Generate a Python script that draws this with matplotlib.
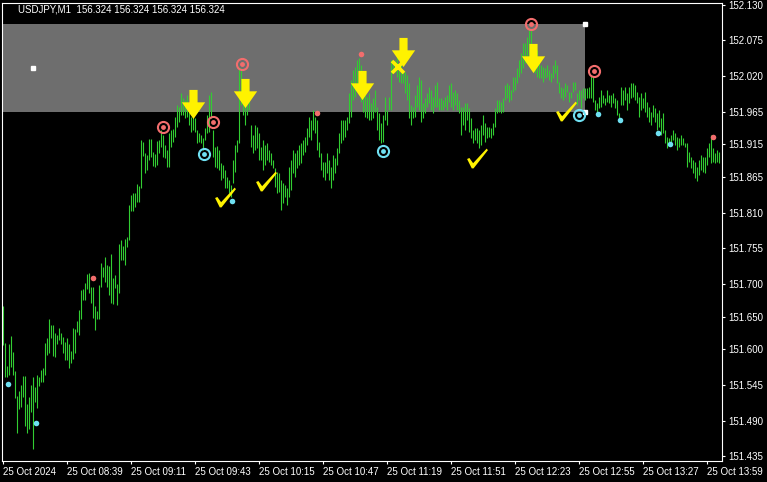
import numpy as np
import matplotlib
matplotlib.use('Agg')
import matplotlib.pyplot as plt
from matplotlib.path import Path
from matplotlib.patches import Rectangle

# USDJPY M1 bars, 08:07 .. 14:05 (bar index 0 = 08:07)
highs = [
    151.667,151.610,151.574,151.608,151.620,151.596,151.567,151.528,151.536,151.545,
    151.559,151.559,151.516,151.527,151.545,151.557,151.542,151.560,151.557,151.568,
    151.571,151.610,151.617,151.646,151.637,151.637,151.625,151.622,151.633,151.625,
    151.619,151.611,151.617,151.608,151.597,151.633,151.631,151.643,151.660,151.691,
    151.693,151.702,151.716,151.717,151.696,151.696,151.667,151.659,151.699,151.733,
    151.726,151.742,151.730,151.728,151.746,151.710,151.714,151.700,151.762,151.768,
    151.759,151.770,151.773,151.822,151.837,151.840,151.840,151.854,151.851,151.922,
    151.919,151.902,151.899,151.923,151.923,151.903,151.900,151.920,151.922,151.937,
    151.929,151.914,151.906,151.932,151.937,151.939,151.957,151.976,151.972,151.994,
    151.986,151.983,151.991,151.976,151.957,151.960,151.956,151.937,151.932,151.929,
    151.925,151.940,151.960,151.991,151.996,151.937,151.911,151.912,151.906,151.886,
    151.883,151.876,151.865,151.860,151.853,151.891,151.914,151.922,152.034,152.032,
    151.994,151.979,151.976,151.991,151.945,151.929,151.945,151.942,151.932,151.911,
    151.922,151.914,151.917,151.906,151.902,151.891,151.879,151.872,151.871,151.860,
    151.856,151.853,151.848,151.880,151.891,151.906,151.902,151.906,151.914,151.917,
    151.922,151.926,151.940,151.957,151.952,151.968,151.957,151.952,151.919,151.902,
    151.888,151.888,151.902,151.891,151.880,151.899,151.894,151.909,151.932,151.952,
    151.952,151.952,151.957,151.994,152.014,152.029,152.034,152.045,152.048,152.037,
    151.999,151.994,151.988,151.994,151.979,151.986,151.999,151.972,151.963,151.948,
    151.960,151.988,151.968,151.988,152.045,152.045,152.045,152.056,152.034,152.037,
    152.029,152.026,152.022,152.009,151.976,151.972,151.991,152.006,152.019,152.014,
    151.979,151.986,151.994,152.003,151.999,151.988,152.006,152.011,151.986,151.986,
    151.983,151.988,151.991,152.006,152.009,151.996,151.999,151.994,151.983,151.972,
    151.972,151.979,151.979,151.971,151.956,151.937,151.940,151.940,151.937,151.945,
    151.960,151.948,151.942,151.942,151.940,151.948,151.971,151.983,151.983,151.980,
    151.986,152.006,152.009,152.006,151.999,152.019,152.019,152.032,152.045,152.056,
    152.071,152.071,152.080,152.094,152.091,152.065,152.049,152.060,152.045,152.037,
    152.034,152.032,152.037,152.029,152.025,152.037,152.045,152.037,152.011,152.003,
    152.002,152.009,152.006,151.996,151.996,152.011,152.011,151.994,151.999,151.999,
    152.002,152.002,152.002,152.003,152.022,152.019,151.983,151.979,151.988,151.999,
    151.991,151.986,151.999,151.991,151.991,151.994,151.986,151.983,151.963,152.003,
    151.999,152.003,151.994,152.003,152.009,152.009,152.006,151.996,151.988,151.994,
    151.986,151.996,151.980,151.972,151.965,151.976,151.971,151.963,151.968,151.956,
    151.963,151.937,151.926,151.925,151.929,151.937,151.932,151.926,151.925,151.929,
    151.925,151.917,151.917,151.903,151.896,151.891,151.888,151.880,151.891,151.899,
    151.896,151.896,151.909,151.917,151.929,151.909,151.902,151.906,151.903,
]
lows = [
    151.607,151.557,151.557,151.560,151.573,151.560,151.525,151.471,151.508,151.511,
    151.527,151.482,151.471,151.477,151.504,151.447,151.519,151.510,151.543,151.550,
    151.550,151.560,151.591,151.594,151.617,151.590,151.588,151.608,151.614,151.608,
    151.594,151.583,151.583,151.571,151.579,151.585,151.594,151.626,151.622,151.646,
    151.676,151.676,151.693,151.686,151.671,151.648,151.630,151.646,151.646,151.696,
    151.711,151.703,151.696,151.683,151.671,151.670,151.694,151.668,151.686,151.737,
    151.737,151.730,151.757,151.768,151.813,151.813,151.819,151.826,151.826,151.848,
    151.897,151.871,151.876,151.891,151.896,151.882,151.880,151.883,151.902,151.911,
    151.896,151.894,151.880,151.880,151.911,151.919,151.926,151.942,151.949,151.960,
    151.960,151.956,151.957,151.945,151.934,151.937,151.934,151.917,151.919,151.917,
    151.906,151.922,151.932,151.934,151.956,151.896,151.880,151.879,151.876,151.860,
    151.863,151.848,151.848,151.840,151.834,151.856,151.872,151.903,151.917,151.976,
    151.960,151.945,151.960,151.968,151.911,151.902,151.906,151.909,151.891,151.891,
    151.876,151.883,151.891,151.888,151.883,151.879,151.849,151.840,151.842,151.814,
    151.825,151.834,151.822,151.834,151.845,151.871,151.865,151.879,151.883,151.886,
    151.899,151.903,151.914,151.926,151.922,151.937,151.932,151.906,151.896,151.876,
    151.865,151.860,151.871,151.860,151.848,151.860,151.871,151.883,151.902,151.917,
    151.922,151.926,151.937,151.948,151.957,151.983,151.988,152.003,151.991,151.980,
    151.965,151.957,151.956,151.952,151.952,151.956,151.965,151.937,151.922,151.917,
    151.919,151.952,151.945,151.968,151.968,152.025,152.026,152.019,152.011,152.009,
    152.009,151.994,151.983,151.956,151.945,151.956,151.957,151.972,151.968,151.949,
    151.956,151.963,151.972,151.979,151.968,151.963,151.972,151.972,151.968,151.968,
    151.968,151.972,151.968,151.980,151.972,151.968,151.976,151.968,151.963,151.929,
    151.945,151.937,151.952,151.934,151.925,151.917,151.922,151.917,151.909,151.914,
    151.929,151.919,151.925,151.926,151.925,151.929,151.942,151.963,151.965,151.963,
    151.965,151.983,151.986,151.980,151.983,151.996,151.999,152.009,152.019,152.025,
    152.032,152.040,152.040,152.045,152.056,152.040,152.025,152.019,152.017,152.017,
    152.011,152.017,152.019,152.014,152.011,152.017,152.025,152.009,151.994,151.986,
    151.983,151.988,151.996,151.980,151.986,151.996,151.999,151.976,151.983,151.971,
    151.986,151.983,151.986,151.986,151.986,151.980,151.968,151.963,151.971,151.972,
    151.979,151.976,151.980,151.979,151.972,151.979,151.971,151.960,151.952,151.976,
    151.976,151.983,151.968,151.979,151.986,151.988,151.983,151.979,151.957,151.968,
    151.971,151.965,151.957,151.949,151.945,151.957,151.949,151.937,151.942,151.929,
    151.932,151.917,151.909,151.914,151.919,151.922,151.914,151.906,151.911,151.914,
    151.914,151.911,151.880,151.888,151.879,151.871,151.863,151.859,151.868,151.876,
    151.872,151.871,151.883,151.896,151.886,151.888,151.886,151.888,151.886,
]

time_ticks = [0, 32, 64, 96, 128, 160, 192, 224, 256, 288, 320, 352]
time_labels = ['25 Oct 2024', '25 Oct 08:39', '25 Oct 09:11', '25 Oct 09:43',
               '25 Oct 10:15', '25 Oct 10:47', '25 Oct 11:19', '25 Oct 11:51',
               '25 Oct 12:23', '25 Oct 12:55', '25 Oct 13:27', '25 Oct 13:59']
price_ticks = [152.130, 152.075, 152.020, 151.965, 151.915, 151.865, 151.810,
               151.755, 151.700, 151.650, 151.600, 151.545, 151.490, 151.435]

# objects on the chart (bar index, price)
zone_x = [-3, 290.9]
zone_p = [151.965, 152.100]
handle_x = [14.9, 290.9, 290.9]
handle_p = [152.032, 152.100, 151.965]
red_dot_x = [44.7, 156.9, 178.9, 354.9]
red_dot_p = [151.709, 151.963, 152.054, 151.926]
red_ring_x = [80.0, 104.9, 119.4, 263.9, 295.4]
red_ring_p = [151.942, 151.949, 152.039, 152.100, 152.028]
cyan_dot_x = [2.4, 16.4, 114.4, 297.4, 308.4, 327.4, 333.4]
cyan_dot_p = [151.547, 151.487, 151.828, 151.962, 151.952, 151.932, 151.916]
cyan_ring_x = [100.4, 189.9, 287.9]
cyan_ring_p = [151.900, 151.905, 151.960]
arrow_x = [94.9, 120.9, 179.4, 199.9, 264.9]
arrow_p = [151.977, 151.994, 152.006, 152.057, 152.048]
check_x = [110.9, 131.4, 236.9, 281.4]
check_p = [151.834, 151.859, 151.894, 151.966]
cross_x = [197.2]
cross_p = [152.034]

RED = '#f26d6d'
CYAN = '#6fe0f2'
YELLOW = '#fff200'
BARS = '#32cd32'

arrow_marker = Path([(-0.28, 1.0), (0.28, 1.0), (0.28, 0.15), (0.8, 0.15),
                     (0.0, -1.0), (-0.8, 0.15), (-0.28, 0.15), (-0.28, 1.0)],
                    [1, 2, 2, 2, 2, 2, 2, 79])
check_marker = Path([(-1.0, -0.05), (-0.78, 0.05), (-0.42, -0.45), (0.88, 0.95),
                     (1.0, 0.8), (-0.38, -0.95), (-0.55, -0.95), (-1.0, -0.05)],
                    [1, 2, 2, 2, 2, 2, 2, 79])

W, H = 767, 482
fig = plt.figure(figsize=(W/100, H/100), dpi=100, facecolor='black')
ax = fig.add_axes([2/W, 21/H, 720/W, 458.3/H], facecolor='black')

ax.add_patch(Rectangle((zone_x[0], zone_p[0]), zone_x[1]-zone_x[0], zone_p[1]-zone_p[0],
                       facecolor='#6e6e6e', edgecolor='none', zorder=0))

k = np.arange(len(highs))
ax.vlines(k, lows, highs, colors=BARS, linewidth=0.8, zorder=2)

ax.plot(handle_x, handle_p, 's', ms=3, color='white', zorder=3)
ax.plot(red_dot_x, red_dot_p, 'o', ms=4, color=RED, mec='none', zorder=4)
ax.plot(red_ring_x, red_ring_p, 'o', ms=8, mfc='none', mec=RED, mew=1.5, zorder=4)
ax.plot(red_ring_x, red_ring_p, 'o', ms=3.5, color=RED, mec='none', zorder=4)
ax.plot(cyan_dot_x, cyan_dot_p, 'o', ms=4, color=CYAN, mec='none', zorder=4)
ax.plot(cyan_ring_x, cyan_ring_p, 'o', ms=8, mfc='none', mec=CYAN, mew=1.5, zorder=4)
ax.plot(cyan_ring_x, cyan_ring_p, 'o', ms=3.5, color=CYAN, mec='none', zorder=4)
ax.plot(arrow_x, arrow_p, ls='none', marker=arrow_marker, ms=21, color=YELLOW, mec='none', zorder=5)
ax.plot(check_x, check_p, ls='none', marker=check_marker, ms=15, color=YELLOW, mec='none', zorder=5)
ax.plot(cross_x, cross_p, ls='none', marker='x', ms=9, mew=2.6, color=YELLOW, zorder=5)

ax.set_xlim(-0.65, 359.35)
ax.set_ylim(151.428, 152.133)

for s in ax.spines.values():
    s.set_color('white')
    s.set_linewidth(0.8)

ax.yaxis.tick_right()
ax.set_yticks(price_ticks)
ax.set_yticklabels(['%.3f' % p for p in price_ticks])
ax.set_xticks(time_ticks)
ax.set_xticklabels(time_labels, ha='left')
ax.tick_params(colors='white', length=2.5, width=0.8, labelsize=7, pad=2)
ax.tick_params(axis='x', pad=1.5)
for lab in ax.get_xticklabels() + ax.get_yticklabels():
    lab.set_family('Liberation Sans')

fig.text(18/W, 1 - 10/H, 'USDJPY,M1  156.324 156.324 156.324 156.324', color='white',
         fontsize=7, family='Liberation Sans', va='center', ha='left')

fig.savefig('out.png', dpi=100, facecolor='black')
